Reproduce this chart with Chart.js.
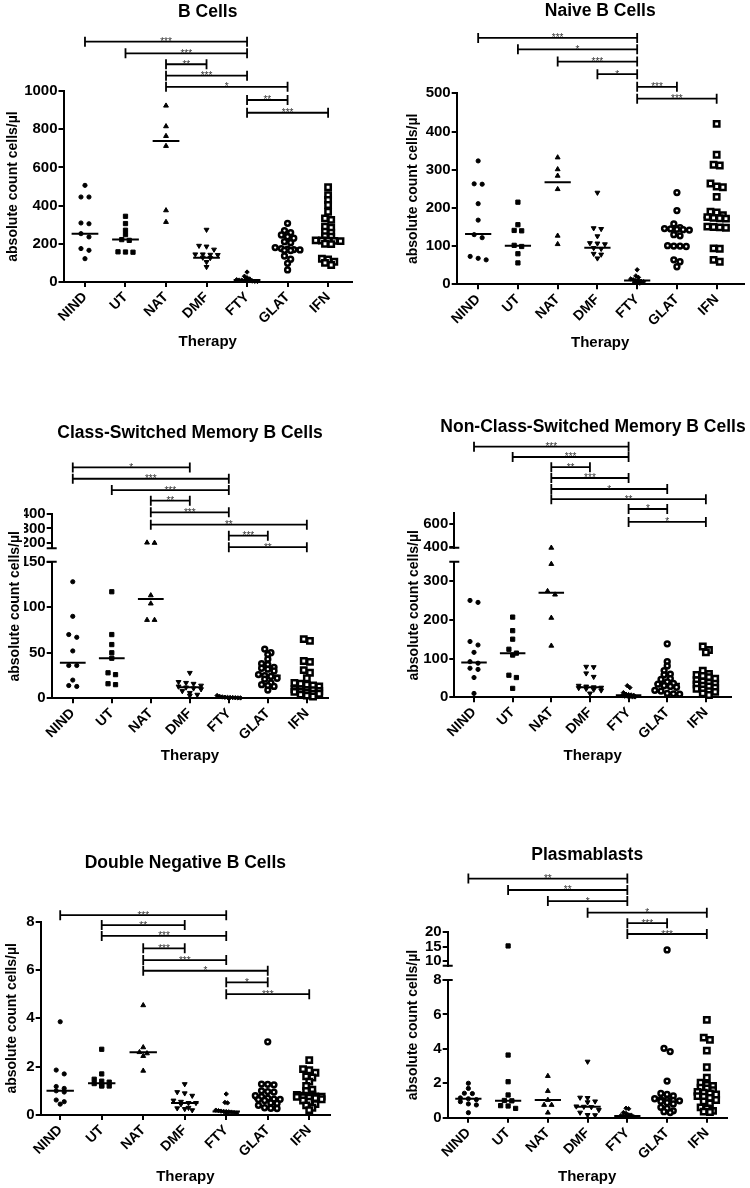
<!DOCTYPE html>
<html><head><meta charset="utf-8">
<script src="https://cdn.jsdelivr.net/npm/chart.js@4.4.1/dist/chart.umd.min.js"></script>
<style>
html,body{margin:0;padding:0;background:#fff;}
body{width:750px;height:1188px;overflow:hidden;position:relative;}
canvas{position:absolute;}
</style></head><body>
<canvas id="c0"></canvas><canvas id="c1"></canvas><canvas id="c2"></canvas>
<canvas id="c3"></canvas><canvas id="c4"></canvas><canvas id="c5"></canvas>
<script>
const categories = ['NIND', 'UT', 'NAT', 'DMF', 'FTY', 'GLAT', 'IFN'];
const yAxisTitle = 'absolute count cells/µl';
const xAxisTitle = 'Therapy';

// ---- B Cells ----
const bCellsValues = [
  [506, 445, 445, 309, 305, 253, 236, 175, 166, 122],
  [344, 306, 271, 248, 222, 218, 158, 157, 156],
  [923, 815, 764, 712, 375, 314],
  [274, 190, 186, 170, 145, 145, 143, 142, 128, 126, 105, 79],
  [52, 30, 22, 16, 12, 10, 9, 8, 7, 6, 5, 4, 3],
  [307, 269, 258, 246, 237, 229, 211, 206, 180, 175, 172, 170, 168, 166, 165, 136, 119, 98, 63],
  [496, 455, 429, 403, 368, 333, 325, 290, 285, 263, 258, 240, 237, 218, 217, 216, 215, 214, 200, 198, 122, 118, 106, 100, 89]
];
const bCellsMedians = [253, 222, 738, 127, 10, 175, 222];
const bCellsTicks = [0, 200, 400, 600, 800, 1000];
const bCellsBrackets = [[0,4,1258,'***'],[1,4,1197,'***'],[2,3,1140,'**'],[2,4,1080,'***'],[2,5,1022,'*'],[4,5,953,'**'],[4,6,886,'***']];

// ---- Naive B Cells ----
const naiveValues = [
  [323, 263, 262, 211, 168, 130, 122, 73, 68, 64],
  [215, 156, 141, 140, 102, 99, 80, 56],
  [332, 301, 284, 249, 127, 105],
  [240, 147, 145, 126, 108, 107, 105, 95, 93, 80, 78, 68],
  [38, 22, 18, 14, 12, 10, 9, 8, 7, 5, 4, 3],
  [240, 193, 158, 148, 146, 145, 144, 143, 142, 130, 127, 101, 100, 100, 99, 64, 59, 46],
  [420, 339, 313, 311, 264, 256, 254, 229, 190, 188, 181, 176, 174, 173, 172, 151, 150, 149, 148, 94, 93, 64, 59]
];
const naiveMedians = [132, 101, 267, 96, 10, 143, 175];
const naiveTicks = [0, 100, 200, 300, 400, 500];
const naiveBrackets = [[0,4,645,'***'],[1,4,615,'*'],[2,4,583,'***'],[3,4,550,'*'],[4,5,517,'***'],[4,6,486,'***']];

// ---- Class-Switched Memory B Cells ----
const csValues = [
  [128, 90, 70, 67, 52, 36, 36, 20, 14, 13],
  [117, 70, 59, 50, 44, 28, 26, 16, 15],
  [200, 198, 113, 104, 86, 86],
  [28, 18, 17, 16, 14, 13, 12, 11, 10, 8, 6, 4, 3],
  [3, 2, 1.5, 1.2, 1, 0.9, 0.8, 0.6, 0.5, 0.4, 0.2],
  [54, 50, 48, 43, 38, 37, 34, 33, 32, 30, 26, 25, 24, 22, 21, 17, 15, 14, 13, 9],
  [65, 63, 41, 40, 31, 28, 22, 17, 16, 15, 14, 13, 10, 10, 9, 9, 8, 7, 7, 6, 5, 5, 4, 3, 2]
];
const csMedians = [39, 44, 109, 12, 1, 25, 10];
const csLowTicks = [0, 50, 100, 150];
const csHighTicks = [200, 300, 400];
const csBrackets = [[0,3,731,'*'],[0,4,651,'***'],[1,4,571,'***'],[2,3,496,'**'],[2,4,414,'***'],[2,6,327,'**'],[4,5,249,'***'],[4,6,168,'**']];

// ---- Non-Class-Switched Memory B Cells ----
const ncsValues = [
  [250, 245, 144, 135, 116, 92, 88, 75, 72, 51, 10],
  [207, 172, 150, 124, 114, 109, 57, 51, 23],
  [390, 344, 274, 265, 205, 133],
  [79, 78, 62, 53, 30, 28, 26, 25, 24, 22, 20, 18, 10],
  [30, 25, 12, 8, 7, 6, 5, 4, 3, 3, 2, 1, 1],
  [138, 92, 81, 69, 60, 58, 48, 46, 40, 36, 34, 30, 28, 26, 18, 16, 10, 9, 8],
  [131, 122, 116, 69, 60, 58, 55, 52, 48, 44, 41, 38, 35, 33, 30, 28, 25, 22, 20, 16, 14, 10, 6]
];
const ncsMedians = [90, 114, 270, 26, 5, 35, 35];
const ncsLowTicks = [0, 100, 200, 300];
const ncsHighTicks = [400, 600];
const ncsBrackets = [[0,4,1281,'***'],[1,4,1190,'***'],[2,3,1100,'**'],[2,4,1005,'***'],[2,5,908,'*'],[2,6,818,'**'],[4,5,732,'*'],[4,6,618,'*']];

// ---- Double Negative B Cells ----
const dnValues = [
  [3.86, 1.86, 1.7, 1.18, 1.1, 1.0, 0.95, 0.62, 0.55, 0.45],
  [2.72, 1.7, 1.48, 1.4, 1.36, 1.3, 1.22, 1.2, 1.2],
  [4.54, 2.8, 2.6, 2.55, 2.44, 1.83],
  [1.28, 0.95, 0.9, 0.8, 0.6, 0.55, 0.5, 0.5, 0.45, 0.3, 0.28, 0.25, 0.2],
  [0.87, 0.52, 0.5, 0.2, 0.18, 0.16, 0.15, 0.14, 0.13, 0.12, 0.1, 0.08, 0.07],
  [3.03, 1.28, 1.27, 1.25, 1.0, 0.97, 0.95, 0.8, 0.76, 0.7, 0.66, 0.65, 0.64, 0.6, 0.5, 0.48, 0.4, 0.3, 0.28, 0.27],
  [2.27, 1.9, 1.85, 1.75, 1.6, 1.55, 1.38, 1.2, 1.05, 1.0, 0.85, 0.83, 0.8, 0.78, 0.77, 0.76, 0.75, 0.74, 0.72, 0.7, 0.65, 0.6, 0.55, 0.45, 0.4, 0.3, 0.2]
];
const dnMedians = [1.0, 1.31, 2.6, 0.5, 0.15, 0.65, 0.79];
const dnTicks = [0, 2, 4, 6, 8];
const dnBrackets = [[0,4,8.27,'***'],[1,3,7.86,'**'],[1,4,7.41,'***'],[2,3,6.9,'***'],[2,4,6.41,'***'],[2,5,5.97,'*'],[4,5,5.49,'*'],[4,6,5.0,'***']];

// ---- Plasmablasts ----
const pbValues = [
  [2.0, 1.7, 1.42, 1.4, 1.15, 1.1, 1.05, 0.93, 0.8, 0.74, 0.29],
  [15.2, 3.64, 2.09, 1.32, 1.0, 0.98, 0.7, 0.68, 0.54],
  [2.42, 1.55, 1.03, 0.74, 0.74, 0.29],
  [3.26, 1.17, 1.15, 0.95, 0.9, 0.66, 0.64, 0.62, 0.45, 0.3, 0.16, 0.15],
  [0.55, 0.52, 0.3, 0.25, 0.16, 0.15, 0.12, 0.1, 0.09, 0.08, 0.06, 0.05],
  [13.8, 4.03, 3.84, 2.13, 1.41, 1.35, 1.26, 1.1, 1.05, 1.03, 1.0, 0.98, 0.95, 0.87, 0.8, 0.6, 0.54, 0.4, 0.35, 0.3],
  [5.68, 4.65, 4.52, 3.9, 2.93, 2.33, 2.03, 1.9, 1.84, 1.75, 1.7, 1.6, 1.5, 1.45, 1.41, 1.35, 1.25, 1.22, 1.15, 1.03, 0.95, 0.83, 0.6, 0.54, 0.4, 0.35, 0.33]
];
const pbMedians = [1.1, 0.99, 1.03, 0.64, 0.1, 1.03, 1.41];
const pbLowTicks = [0, 2, 4, 6, 8];
const pbHighTicks = [10, 15, 20];
const pbBrackets = [[0,4,38.9,'**'],[1,4,34.9,'**'],[2,4,31.0,'*'],[3,6,26.9,'*'],[4,5,23.2,'***'],[4,6,19.4,'***']];

// ---------------- rendering ----------------
const FONT = "'Liberation Sans', Arial, Helvetica, sans-serif";
Chart.defaults.font.family = FONT;
Chart.defaults.color = '#000';

const markers = [
  {style: 'circle', r: 2.1, bg: '#000', bw: 1, rot: 0},
  {style: 'rect', r: 3.0, bg: '#000', bw: 1, rot: 0},
  {style: 'triangle', r: 2.8, bg: '#000', bw: 1, rot: 0},
  {style: 'triangle', r: 2.8, bg: '#000', bw: 1, rot: 180},
  {style: 'rectRot', r: 2.2, bg: '#000', bw: 1, rot: 0},
  {style: 'circle', r: 2.4, bg: '#fff', bw: 2.5, rot: 0},
  {style: 'rect', r: 3.8, bg: '#fff', bw: 2.5, rot: 0}
];
// row layout of the dot plot (GraphPad-like): bin height px, max per row, spacing px
const rowBin = [4, 4, 4, 4, 3, 4, 4];
const rowMax = [3, 3, 2, 4, 10, 5, 5];
const rowStep = [8, 7.5, 7.5, 7.5, 2.6, 6.2, 6.2];

const panels = [
  {id: 'c0', title: 'B Cells', values: bCellsValues, medians: bCellsMedians, brackets: bCellsBrackets,
   low: {min: 0, max: 1000, ticks: bCellsTicks},
   box: {x: 0, y: 0, w: 375, h: 360}, ca: {l: 63.5, r: 352, t: 91, b: 282},
   titleY: 11.7, xTitleY: 341.7, yTitleX: 13.3, xMin: -0.53, xMax: 6.59},
  {id: 'c1', title: 'Naive B Cells', values: naiveValues, medians: naiveMedians, brackets: naiveBrackets,
   low: {min: 0, max: 500, ticks: naiveTicks},
   box: {x: 375, y: 0, w: 375, h: 360}, ca: {l: 81.7, r: 371.7, t: 93.3, b: 284.3},
   titleY: 11, xTitleY: 343, yTitleX: 38.3, xMin: -0.54, xMax: 6.68},
  {id: 'c2', title: 'Class-Switched Memory B Cells', values: csValues, medians: csMedians, brackets: csBrackets,
   low: {min: 0, max: 150, ticks: csLowTicks, px: 136.6}, high: {min: 160, max: 400, ticks: csHighTicks, px: 34}, gapPx: 13.4,
   box: {x: 0, y: 380, w: 375, h: 390}, ca: {l: 51.7, r: 328.3, t: 134.3, b: 318.3},
   titleY: 53.3, xTitleY: 376, yTitleX: 15, xMin: -0.54, xMax: 6.55},
  {id: 'c3', title: 'Non-Class-Switched Memory B Cells', values: ncsValues, medians: ncsMedians, brackets: ncsBrackets,
   low: {min: 0, max: 350, ticks: ncsLowTicks, px: 135.6}, high: {min: 391, max: 694, ticks: ncsHighTicks, px: 34.4}, gapPx: 14,
   box: {x: 375, y: 380, w: 436, h: 390}, ca: {l: 79.3, r: 356, t: 133.3, b: 317.3}, wideTitle: true,
   titleY: 47.3, xTitleY: 376, yTitleX: 39.3, xMin: -0.51, xMax: 6.65},
  {id: 'c4', title: 'Double Negative B Cells', values: dnValues, medians: dnMedians, brackets: dnBrackets,
   low: {min: 0, max: 8, ticks: dnTicks},
   box: {x: 0, y: 780, w: 375, h: 408}, ca: {l: 40.7, r: 330, t: 141.7, b: 335},
   titleY: 83.3, xTitleY: 396.7, yTitleX: 11.7, xMin: -0.47, xMax: 6.5},
  {id: 'c5', title: 'Plasmablasts', values: pbValues, medians: pbMedians, brackets: pbBrackets,
   low: {min: 0, max: 8, ticks: pbLowTicks, px: 137.7}, high: {min: 8.24, max: 20, ticks: pbHighTicks, px: 33.4}, gapPx: 14.3,
   box: {x: 375, y: 780, w: 375, h: 408}, ca: {l: 72.7, r: 351.7, t: 152.3, b: 337.7},
   titleY: 75, xTitleY: 396.7, yTitleX: 37.7, xMin: -0.52, xMax: 6.5}
];

function rowOffsets(ys, binH, maxRow, step) {
  const order = ys.map((y, i) => i).sort((a, b) => ys[a] - ys[b]);
  const out = new Array(ys.length).fill(0);
  let row = [];
  const flush = () => { row.forEach((i, k) => { out[i] = (k - (row.length - 1) / 2) * step; }); row = []; };
  for (const i of order) {
    if (row.length && (ys[i] - ys[row[0]] >= binH || row.length >= maxRow)) flush();
    row.push(i);
  }
  flush();
  return out;
}

function overlayPlugin(p) {
  return {
    id: 'overlay_' + p.id,
    afterDraw(chart) {
      const ctx = chart.ctx;
      const xs = chart.scales.x;
      const ys = chart.scales[p.high ? 'yHigh' : 'y'];
      ctx.save();
      ctx.strokeStyle = '#000';
      ctx.lineWidth = 1.8;
      p.brackets.forEach(([a, b, v, label]) => {
        const x1 = xs.getPixelForValue(a), x2 = xs.getPixelForValue(b), y = ys.getPixelForValue(v);
        ctx.beginPath();
        ctx.moveTo(x1, y); ctx.lineTo(x2, y);
        ctx.moveTo(x1, y - 5); ctx.lineTo(x1, y + 5);
        ctx.moveTo(x2, y - 5); ctx.lineTo(x2, y + 5);
        ctx.stroke();
        ctx.fillStyle = '#333';
        ctx.font = '10px ' + FONT;
        ctx.textAlign = 'center';
        ctx.textBaseline = 'alphabetic';
        ctx.fillText(label, (x1 + x2) / 2, y + 3.5);
      });
      if (p.high) {
        const x0 = chart.chartArea.left;
        const hi = chart.scales.yHigh, lo = chart.scales.yLow;
        ctx.lineWidth = 2;
        ctx.beginPath();
        ctx.moveTo(x0 - 5, hi.bottom); ctx.lineTo(x0 + 5, hi.bottom);
        ctx.moveTo(x0 - 5, lo.top); ctx.lineTo(x0 + 5, lo.top);
        ctx.stroke();
      }
      ctx.restore();
    }
  };
}

function valueAxis(p, seg, extra) {
  return Object.assign({
    type: 'linear', position: 'left', min: seg.min, max: seg.max,
    border: {display: true, color: '#000', width: 2},
    grid: {display: true, drawOnChartArea: false, drawTicks: true, tickLength: 5, color: '#000', lineWidth: 2},
    ticks: {color: '#000', font: {family: FONT, size: 15, weight: 'bold'}, padding: 1, autoSkip: false, callback: v => String(v)},
    afterBuildTicks: s => { s.ticks = seg.ticks.map(v => ({value: v})); },
    afterFit: s => { s.width = p.ca.l - (p.yTitleX + 9); }
  }, extra || {});
}

function buildPanel(p) {
  const canvas = document.getElementById(p.id);
  canvas.width = p.box.w; canvas.height = p.box.h;
  canvas.style.left = p.box.x + 'px'; canvas.style.top = p.box.y + 'px';
  const broken = !!p.high;
  const lowId = broken ? 'yLow' : 'y';
  const datasets = [];
  p.values.forEach((vals, g) => {
    const m = markers[g];
    const mk = (arr, axis) => ({
      label: categories[g], swarmGroup: g, yAxisID: axis,
      data: arr.map(v => ({x: g, y: v})),
      pointStyle: m.style, pointRadius: m.r, pointHoverRadius: m.r, pointRotation: m.rot,
      pointBackgroundColor: m.bg, pointBorderColor: '#000', pointBorderWidth: m.bw,
      showLine: false, clip: false
    });
    const lowVals = broken ? vals.filter(v => v <= p.low.max) : vals;
    datasets.push(mk(lowVals, lowId));
    if (broken) {
      const hv = vals.filter(v => v > p.low.max);
      if (hv.length) datasets.push(mk(hv, 'yHigh'));
    }
  });
  const medData = [];
  p.medians.forEach((m, g) => { medData.push({x: g - 0.33, y: m}, {x: g + 0.33, y: m}, {x: g, y: null}); });
  datasets.push({label: 'median', data: medData, yAxisID: lowId, showLine: true, spanGaps: false,
    borderColor: '#000', borderWidth: 2, pointRadius: 0, pointHoverRadius: 0, clip: false});

  const scales = {};
  scales.x = {
    type: 'linear', position: 'bottom', min: p.xMin, max: p.xMax,
    border: {display: true, color: '#000', width: 2},
    grid: {display: true, drawOnChartArea: false, drawTicks: true, tickLength: 5, color: '#000', lineWidth: 2},
    afterBuildTicks: s => { s.ticks = categories.map((c, i) => ({value: i})); },
    ticks: {autoSkip: false, minRotation: 45, maxRotation: 45, color: '#000', padding: 2,
      font: {family: FONT, size: 14, weight: 'bold'}, callback: v => categories[Math.round(v)]},
    title: {display: true, text: xAxisTitle, color: '#000', font: {family: FONT, size: 15, weight: 'bold'},
      padding: {top: 0, bottom: p.box.h - p.xTitleY - 9}},
    afterFit: s => { s.height = p.box.h - p.ca.b; }
  };
  scales.yTitle = {
    type: 'linear', position: 'left', weight: 10, min: 0, max: 1,
    border: {display: false}, grid: {display: false, drawTicks: false}, ticks: {display: false},
    title: {display: true, text: yAxisTitle, color: '#000', font: {family: FONT, size: 14, weight: 'bold'},
      padding: {top: p.yTitleX - 8.4, bottom: 0}},
    afterFit: s => { s.width = p.yTitleX + 9; }
  };
  if (broken) {
    scales.yHigh = valueAxis(p, p.high, {stack: 'v', stackWeight: p.high.px, weight: 3});
    scales.yGap = {type: 'linear', position: 'left', stack: 'v', stackWeight: p.gapPx, weight: 2, display: false, min: 0, max: 1};
    scales.yLow = valueAxis(p, p.low, {stack: 'v', stackWeight: p.low.px, weight: 1});
  } else {
    scales.y = valueAxis(p, p.low);
  }
  let padRight = p.box.w - p.ca.r;
  if (p.wideTitle) {
    scales.yRight = {
      type: 'linear', position: 'right', min: 0, max: 1,
      border: {display: false}, grid: {display: false, drawTicks: false}, ticks: {display: false},
      afterFit: s => { s.width = p.box.w - p.ca.r; }
    };
    padRight = 0;
  }
  const titleLH = 17.5 * 1.2;
  const chart = new Chart(canvas, {
    type: 'scatter',
    data: {datasets},
    options: {
      responsive: false, animation: false, devicePixelRatio: 1, events: [],
      layout: {padding: {left: 0, top: 0, right: padRight, bottom: 0}},
      scales,
      plugins: {
        legend: {display: false}, tooltip: {enabled: false},
        title: {display: true, text: p.title, color: '#000', fullSize: !!p.wideTitle,
          font: {family: FONT, size: 17.5, weight: 'bold'},
          padding: {top: p.titleY - titleLH / 2, bottom: p.ca.t - p.titleY - titleLH / 2}}
      }
    },
    plugins: [overlayPlugin(p)]
  });
  const xs = chart.scales.x;
  const unit = xs.getPixelForValue(1) - xs.getPixelForValue(0);
  chart.data.datasets.forEach(ds => {
    if (ds.swarmGroup === undefined) return;
    const g = ds.swarmGroup;
    const ysc = chart.scales[ds.yAxisID];
    const py = ds.data.map(pt => ysc.getPixelForValue(pt.y));
    const off = rowOffsets(py, rowBin[g], rowMax[g], rowStep[g]);
    ds.data.forEach((pt, i) => { pt.x = g + off[i] / unit; });
  });
  chart.update('none');
}

panels.forEach(buildPanel);
</script>
</body></html>
